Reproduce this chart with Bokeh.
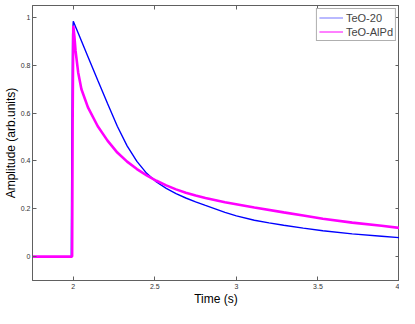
from bokeh.plotting import figure
from bokeh.models import LinearAxis, FixedTicker, Range1d, Legend, LegendItem
from bokeh.embed import file_html
from bokeh.resources import INLINE

# Data
t_teo20 = [1.75, 1.988, 1.991, 1.996, 2.0, 2.03, 2.09, 2.15, 2.21, 2.27, 2.33, 2.39,
           2.45, 2.51, 2.57, 2.63, 2.69, 2.75, 2.81, 2.93, 3.0, 3.11, 3.2, 3.29, 3.41,
           3.53, 3.71, 3.89, 4.0]
a_teo20 = [0.0, 0.0, 0.45, 0.93, 0.984, 0.935, 0.836, 0.737, 0.64, 0.545, 0.463, 0.398,
           0.348, 0.312, 0.285, 0.263, 0.245, 0.229, 0.214, 0.185, 0.17, 0.152, 0.141, 0.131, 0.119,
           0.108, 0.095, 0.085, 0.079]

t_alpd = [1.75, 1.993, 1.996, 2.0, 2.007, 2.014, 2.03, 2.05, 2.09, 2.15, 2.21, 2.27,
          2.33, 2.39, 2.45, 2.51, 2.57, 2.63, 2.69, 2.75, 2.81, 2.93, 3.11, 3.29, 3.41,
          3.53, 3.71, 3.89, 4.0]
a_alpd = [0.0, 0.0, 0.55, 0.965, 0.92, 0.86, 0.77, 0.70, 0.624, 0.545, 0.485, 0.435,
          0.397, 0.366, 0.34, 0.317, 0.298, 0.281, 0.267, 0.255, 0.245, 0.227, 0.205, 0.185, 0.172,
          0.158, 0.142, 0.129, 0.12]

x_ticks = [2, 2.5, 3, 3.5, 4]
x_tick_labels = ["2", "2.5", "3", "3.5", "4"]
y_ticks = [0, 0.2, 0.4, 0.6, 0.8, 1.0]
y_tick_labels = ["0", "0.2", "0.4", "0.6", "0.8", "1"]
series_names = ["TeO-20", "TeO-AlPd"]
nan = float("nan")

FONT = "Liberation Sans"
AXC = "#606060"

p = figure(width=399, height=308, output_backend="svg", toolbar_location=None,
           x_range=Range1d(1.75, 4), y_range=Range1d(-0.1, 1.05),
           min_border_left=0, min_border_right=0, min_border_top=5, min_border_bottom=0)
p.background_fill_color = "white"
p.border_fill_color = "white"
p.outline_line_color = AXC
p.grid.visible = False

p.line(t_teo20, a_teo20, color="#0000ff", line_width=1.4)
p.line(t_alpd, a_alpd, color="#ff00ff", line_width=2.6)
# thin stand-ins for the legend entries (no visible data)
l1 = p.line([nan], [nan], color="#0000ff", line_width=1, line_alpha=0.55)
l2 = p.line([nan], [nan], color="#ff00ff", line_width=1)

def style(ax, ticks, labels, show_labels):
    ax.ticker = FixedTicker(ticks=ticks)
    ax.major_label_overrides = {k: v for k, v in zip(ticks, labels)}
    ax.major_tick_in = 4
    ax.major_tick_out = 0
    ax.minor_tick_in = 0
    ax.minor_tick_out = 0
    ax.axis_line_color = AXC
    ax.major_tick_line_color = AXC
    ax.major_label_text_font = FONT
    ax.major_label_text_font_size = "7px" if show_labels else "0px"
    ax.major_label_text_color = "#333333"
    ax.major_label_standoff = 2 if show_labels else 0

xa = p.xaxis[0]
ya = p.yaxis[0]
style(xa, x_ticks, x_tick_labels, True)
style(ya, y_ticks, y_tick_labels, True)
xa.axis_label = "Time (s)"
ya.axis_label = "Amplitude (arb.units)"
for ax in (xa, ya):
    ax.axis_label_text_font = FONT
    ax.axis_label_text_font_size = "12px"
    ax.axis_label_text_font_style = "normal"
    ax.axis_label_text_color = "#000000"
    ax.axis_label_standoff = 0
xa.major_label_standoff = 3
ya.major_label_standoff = 2

top = LinearAxis()
style(top, x_ticks, ["" for _ in x_ticks], False)
right = LinearAxis()
style(right, y_ticks, ["" for _ in y_ticks], False)
p.add_layout(top, "above")
p.add_layout(right, "right")

legend = Legend(items=[LegendItem(label=series_names[0], renderers=[l1]),
                       LegendItem(label=series_names[1], renderers=[l2])],
                location="top_right")
legend.label_text_font = FONT
legend.label_text_font_size = "11px"
legend.label_height = 13
legend.glyph_height = 13
legend.glyph_width = 24
legend.spacing = 1
legend.padding = 2
legend.margin = 3
legend.border_line_color = AXC
legend.label_standoff = 3
p.add_layout(legend)

open("out.html", "w").write(file_html(p, INLINE))
